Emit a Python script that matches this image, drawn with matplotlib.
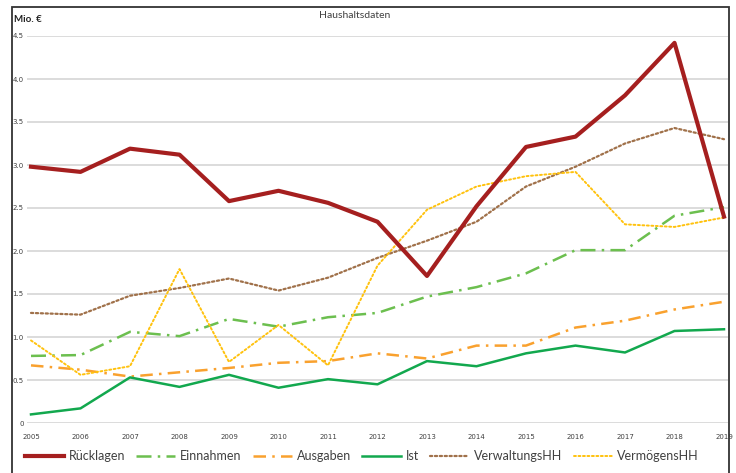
import matplotlib.pyplot as plt
from matplotlib.patches import Rectangle

plt.rcParams['font.family'] = ['Lato', 'DejaVu Sans']

# Jahre
years = list(range(2005, 2020))
year_labels = [str(y) for y in years]

# Werte in Mio. €
ruecklagen = [2.98, 2.92, 3.19, 3.12, 2.58, 2.70, 2.56, 2.34, 1.71, 2.52, 3.21, 3.33, 3.81, 4.42, 2.40]
einnahmen = [0.78, 0.79, 1.06, 1.01, 1.21, 1.12, 1.23, 1.28, 1.47, 1.58, 1.74, 2.01, 2.01, 2.41, 2.51]
ausgaben = [0.67, 0.62, 0.54, 0.59, 0.64, 0.70, 0.72, 0.81, 0.75, 0.90, 0.90, 1.11, 1.19, 1.32, 1.41]
ist = [0.10, 0.17, 0.53, 0.42, 0.56, 0.41, 0.51, 0.45, 0.72, 0.66, 0.81, 0.90, 0.82, 1.07, 1.09]
verwaltungshh = [1.28, 1.26, 1.48, 1.57, 1.68, 1.54, 1.69, 1.92, 2.12, 2.34, 2.75, 2.98, 3.25, 3.43, 3.30]
vermoegenshh = [0.96, 0.56, 0.66, 1.79, 0.71, 1.14, 0.67, 1.83, 2.48, 2.75, 2.87, 2.92, 2.31, 2.28, 2.39]

y_ticks = [0, 0.5, 1.0, 1.5, 2.0, 2.5, 3.0, 3.5, 4.0, 4.5]
y_labels = ['0', '0.5', '1.0', '1.5', '2.0', '2.5', '3.0', '3.5', '4.0', '4.5']

fig = plt.figure(figsize=(7.36, 4.73), dpi=100)
ax = fig.add_axes([27 / 736, 50 / 473, 701 / 736, 387 / 473])

# Linien
ax.plot(years, ruecklagen, color='#a51f1f', lw=3, label='Rücklagen', zorder=5)
ax.plot(years, einnahmen, color='#6cbf4f', lw=1.8, ls=(0, (6, 2.5, 1, 2.5)), label='Einnahmen')
ax.plot(years, ausgaben, color='#f9a12e', lw=1.8, ls=(0, (5, 2.5, 1, 2.5)), label='Ausgaben')
ax.plot(years, ist, color='#12a84e', lw=1.8, label='Ist')
ax.plot(years, verwaltungshh, color='#a0714a', lw=1.6, ls=(0, (1, 1.2)),
        dash_capstyle='round', label='VerwaltungsHH')
ax.plot(years, vermoegenshh, color='#ffc20e', lw=1.4, ls=(0, (1, 1.3)),
        dash_capstyle='round', label='VermögensHH')

ax.set_xlim(2005 - 4 / 49.5, 2019 + 4 / 49.5)
ax.set_ylim(0, 4.5)
ax.set_xticks(years)
ax.set_xticklabels(year_labels, fontfamily='DejaVu Sans')
ax.set_yticks(y_ticks)
ax.set_yticklabels(y_labels, fontfamily='DejaVu Sans')
ax.tick_params(length=0, labelsize=5, labelcolor='#404040')
ax.tick_params(axis='x', pad=8)
ax.tick_params(axis='y', pad=2.5)
for s in ax.spines.values():
    s.set_visible(False)
ax.grid(axis='y', color='#d9d9d9', lw=1.3)
ax.set_axisbelow(True)

# Rahmen
fig.patches.append(Rectangle((11.5 / 736, -0.02), 717 / 736, (473 - 7) / 473 + 0.02,
                             transform=fig.transFigure, fill=False,
                             edgecolor='#333333', lw=1.3))

fig.text(355 / 736, 1 - 15 / 473, 'Haushaltsdaten', ha='center', va='center',
         fontsize=7.5, color='#404040')
fig.text(14 / 736, 1 - 20 / 473, 'Mio. €', ha='left', va='center',
         fontsize=7, fontweight='bold', color='#222222')

fig.legend(loc='center', bbox_to_anchor=(362 / 736, 1 - 456 / 473), ncol=6,
           frameon=False, fontsize=9, handlelength=3.1, columnspacing=0.9,
           handletextpad=0.4, labelcolor='#404040')

fig.savefig('out.png', dpi=100)
